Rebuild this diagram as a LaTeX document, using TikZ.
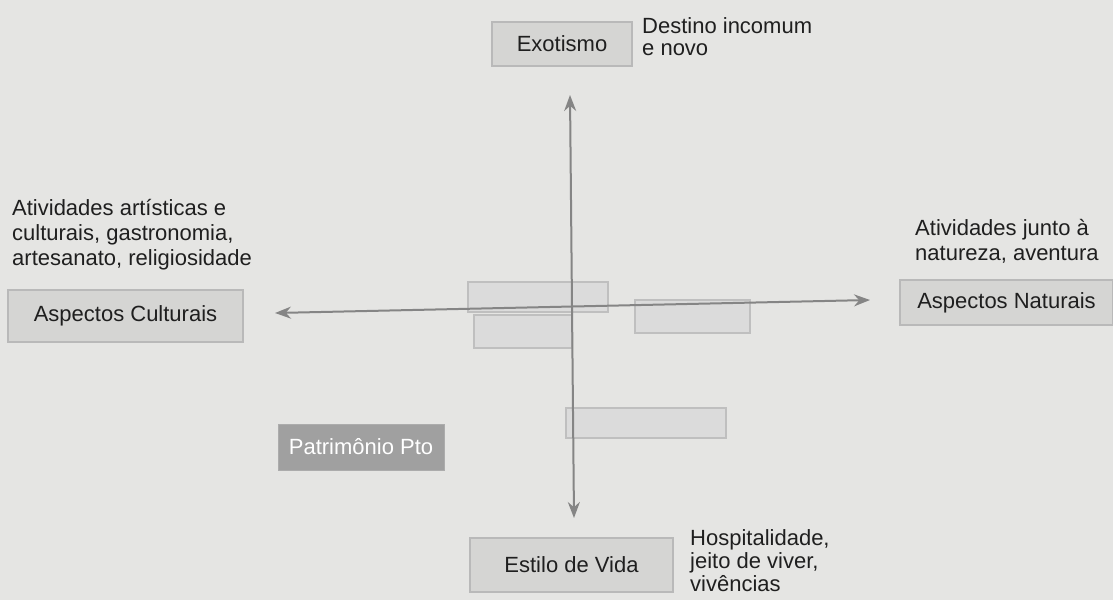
\documentclass[tikz,border=0pt]{standalone}
\usepackage{fontspec}
\setmainfont{Liberation Sans}
\usetikzlibrary{arrows.meta}
\pgfdeclarelayer{bg}
\pgfsetlayers{bg,main}
\definecolor{paper}{HTML}{E5E5E3}
\definecolor{boxgray}{HTML}{D5D5D3}
\definecolor{linegray}{HTML}{858585}
\definecolor{darkbox}{HTML}{A0A0A0}
\tikzset{
    every node/.style={inner sep=0pt, text=black!88, font=\fontsize{22}{25}\selectfont},
    axisbox/.style={rectangle, draw=gray!55, fill=boxgray, line width=1.2pt},
    blankbox/.style={rectangle, draw=gray!50, fill=gray!28, line width=1.2pt},
    note/.style={align=left, anchor=north west},
    axis/.style={draw=linegray, line width=2pt, {Stealth[length=16pt,width=12pt]}-{Stealth[length=16pt,width=12pt]}}
}

\begin{document}
\begin{tikzpicture}[x=1pt, y=-1pt]
        \begin{pgfonlayer}{bg}
                \fill[paper] (0,0) rectangle (1113,600);
        \end{pgfonlayer}
        \useasboundingbox (0,0) rectangle (1113,600);
        \node (exo) [axisbox, minimum width=140pt, minimum height=44pt] at (562,44) {Exotismo};
        \node (cult) [axisbox, minimum width=235pt, minimum height=52pt] at (125.5,316) {Aspectos Culturais};
        \node (nat) [axisbox, minimum width=213pt, minimum height=45pt] at (1006.5,302.5) {Aspectos Naturais};
        \node (vida) [axisbox, minimum width=203pt, minimum height=54pt] at (571.5,565) {Estilo de Vida};
        \node (patr) [rectangle, draw=gray!65, fill=darkbox, text=white, minimum width=166pt, minimum height=46pt] at (361,447) {Patrimônio Pto};
        \node (b1) [blankbox, minimum width=140pt, minimum height=30pt] at (538,297) {};
        \node (b2) [blankbox, minimum width=98pt, minimum height=33pt] at (523,331.5) {};
        \node (b3) [blankbox, minimum width=115pt, minimum height=33pt] at (692.5,316.5) {};
        \node (b4) [blankbox, minimum width=160pt, minimum height=30pt] at (646,423) {};
        \node (exo-txt) [note, font=\fontsize{22}{22}\selectfont] at (642,17) {Destino incomum\\e novo};
        \node (cult-txt) [note] at (12,199) {Atividades artísticas e\\culturais, gastronomia,\\artesanato, religiosidade};
        \node (nat-txt) [note] at (915,219) {Atividades junto à\\natureza, aventura};
        \node (vida-txt) [note, font=\fontsize{22}{23}\selectfont] at (690,529) {Hospitalidade,\\jeito de viver,\\vivências};
        \coordinate (top) at (570,95);
        \coordinate (bottom) at (574,518);
        \coordinate (left) at (275,313);
        \coordinate (right) at (870,300);
        \draw[axis] (top) -- (bottom);
        \draw[axis] (left) -- (right);
\end{tikzpicture}
\end{document}
